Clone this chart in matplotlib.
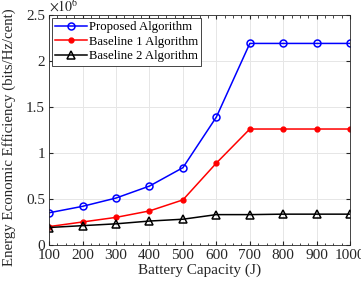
import numpy as np
import matplotlib
matplotlib.use('Agg')
import matplotlib.pyplot as plt
from matplotlib.ticker import MultipleLocator

# data (values x1e6)
capacity = [100, 200, 300, 400, 500, 600, 700, 800, 900, 1000]
proposed = [0.35, 0.42, 0.51, 0.64, 0.84, 1.39, 2.19, 2.19, 2.19, 2.19]
baseline1 = [0.20, 0.25, 0.30, 0.37, 0.49, 0.89, 1.26, 1.26, 1.26, 1.26]
baseline2 = [0.19, 0.21, 0.23, 0.26, 0.28, 0.33, 0.33, 0.335, 0.335, 0.335]

plt.rcParams['font.family'] = ['Liberation Serif', 'DejaVu Serif']
plt.rcParams['mathtext.fontset'] = 'stix'
plt.rcParams['font.size'] = 11

fig = plt.figure(figsize=(3.61, 2.92), dpi=100)
ax = fig.add_axes([0.136, 0.161, 0.834, 0.788])

ax.plot(capacity, proposed, '-o', color='blue', mfc='none', ms=5, lw=1.1, mew=1.1, label='Proposed Algorithm')
ax.plot(capacity, baseline1, '-o', color='red', mfc='red', ms=3.5, lw=1.1, label='Baseline 1 Algorithm')
ax.plot(capacity, baseline2, '-^', color='black', mfc='none', ms=5.5, lw=1.1, mew=1.1, label='Baseline 2 Algorithm')

ax.set_xlim(100, 1000)
ax.set_ylim(0, 2.5)
ax.set_xticks(capacity)
ax.set_yticks([0, 0.5, 1, 1.5, 2, 2.5])
ax.set_yticklabels(['0', '0.5', '1', '1.5', '2', '2.5'])
ax.xaxis.set_minor_locator(MultipleLocator(25))
ax.tick_params(which='both', direction='in', top=True, right=True, labelsize=11, colors='#262626')
ax.tick_params(which='major', length=3, pad=3)
ax.tick_params(which='minor', length=1.8)
for s in ax.spines.values():
    s.set_color('#262626')
    s.set_linewidth(0.6)
ax.grid(True, color='#e6e6e6', lw=0.7)
ax.set_axisbelow(True)

ax.set_xlabel('Battery Capacity (J)', color='#262626', labelpad=1, fontsize=11)
ax.set_ylabel('Energy Economic Efficiency (bits/Hz/cent)', color='#262626', fontsize=10.7)
ax.yaxis.set_label_coords(-0.11, 0.47)
ax.text(0.0, 1.0, r'$\times10^{6}$', transform=ax.transAxes, fontsize=10, color='#262626',
        ha='left', va='bottom')

leg = ax.legend(loc='upper left', fontsize=9.2, frameon=True, fancybox=False, framealpha=1,
                edgecolor='#262626', borderpad=0.25, labelspacing=0.2, handlelength=2.5,
                handletextpad=0.1, borderaxespad=0.25)
leg.get_frame().set_linewidth(0.6)

fig.savefig('out.png', dpi=100)
